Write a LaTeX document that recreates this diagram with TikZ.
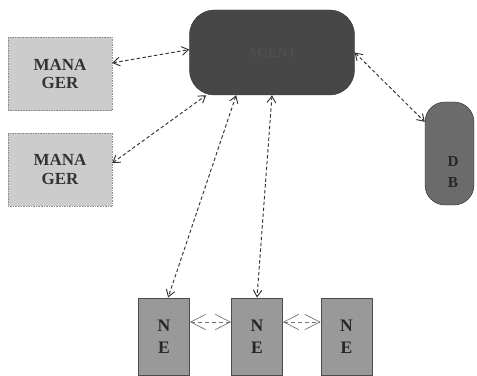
\documentclass[tikz,border=0pt]{standalone}
\usepackage{fontspec}
\setmainfont{Liberation Serif}
\usetikzlibrary{shapes.geometric,arrows.meta}

\begin{document}
\begin{tikzpicture}[x=0.03cm,y=-0.03cm,
  mgr/.style={draw=black!45,densely dotted,fill=black!20,minimum width=3.12cm,minimum height=2.2cm,align=center,text=black!80,font=\bfseries\fontsize{14.5}{16}\selectfont},
  nebox/.style={draw=black!70,thick,fill=black!40,minimum width=1.53cm,minimum height=2.31cm,align=center,text=black!85,font=\bfseries\fontsize{15}{19}\selectfont},
  link/.style={densely dashed,draw=black!80,line width=0.8pt,{Straight Barb[length=2mm,width=2.6mm]}-{Straight Barb[length=2mm,width=2.6mm]}},
  peer/.style={dashed,draw=black!55,line width=0.6pt,{Straight Barb[length=4.5mm,width=4.6mm]}-{Straight Barb[length=4.5mm,width=4.6mm]}}]
\useasboundingbox (0,0) rectangle (477,376);

\node[draw=black!80,fill=black!72,rounded corners=0.75cm,minimum width=4.95cm,minimum height=2.55cm,text=black!69,font=\bfseries\fontsize{12}{12}\selectfont] (agent) at (272,52.5) {AGENT};

\node[mgr] (mgrA) at (60,74) {MANA\\GER};
\node[mgr] (mgrB) at (60,169.5) {MANA\\GER};

\node[draw=black!80,fill=black!58,rounded corners=0.6cm,minimum width=1.47cm,minimum height=3.09cm] (db) at (449.5,153.5) {};
\node[align=center,text=black!85,font=\bfseries\fontsize{13}{18}\selectfont] (dbtext) at (453,172) {D\\B};

\node[nebox] (ne1) at (164,336.5) {N\\E};
\node[nebox] (ne2) at (257,336.5) {N\\E};
\node[nebox] (ne3) at (346.5,336.5) {N\\E};

\draw[link] (mgrA.12) -- (agent.178);
\draw[link] (mgrB.7) -- (agent.213);
\draw[link] (agent.230) -- (ne1.84);
\draw[link] (agent.south) -- (ne2.north);
\draw[link] (agent.east) -- (db.128);

\draw[peer] (ne1.east |- 0,322) -- (ne2.west |- 0,322);
\draw[peer] (ne2.east |- 0,322) -- (ne3.west |- 0,322);
\end{tikzpicture}
\end{document}
